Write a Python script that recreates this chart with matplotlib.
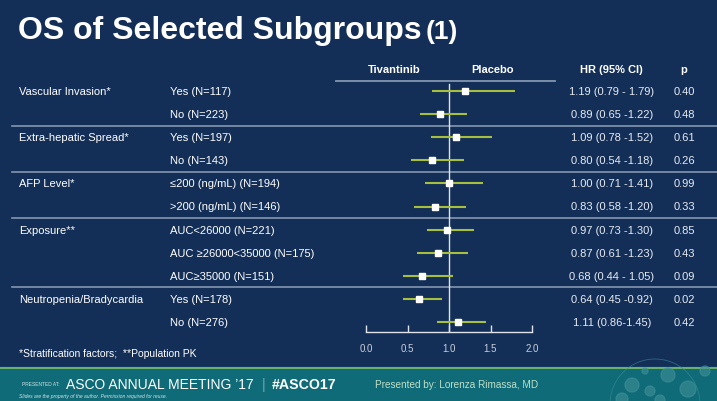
import matplotlib
matplotlib.use("Agg")
import matplotlib.pyplot as plt
from matplotlib.patches import Rectangle, Circle

groups = ["Vascular Invasion*", "", "Extra-hepatic Spread*", "", "AFP Level*", "",
          "Exposure**", "", "", "Neutropenia/Bradycardia", ""]
subgroups = ["Yes (N=117)", "No (N=223)", "Yes (N=197)", "No (N=143)",
             "≤200 (ng/mL) (N=194)", ">200 (ng/mL) (N=146)",
             "AUC<26000 (N=221)", "AUC ≥26000<35000 (N=175)", "AUC≥35000 (N=151)",
             "Yes (N=178)", "No (N=276)"]
hr = [1.19, 0.89, 1.09, 0.80, 1.00, 0.83, 0.97, 0.87, 0.68, 0.64, 1.11]
lo = [0.79, 0.65, 0.78, 0.54, 0.71, 0.58, 0.73, 0.61, 0.44, 0.45, 0.86]
hi = [1.79, 1.22, 1.52, 1.18, 1.41, 1.20, 1.30, 1.23, 1.05, 0.92, 1.45]
hr_text = ["1.19 (0.79 - 1.79)", "0.89 (0.65 -1.22)", "1.09 (0.78 -1.52)", "0.80 (0.54 -1.18)",
           "1.00 (0.71 -1.41)", "0.83 (0.58 -1.20)", "0.97 (0.73 -1.30)", "0.87 (0.61 -1.23)",
           "0.68 (0.44 - 1.05)", "0.64 (0.45 -0.92)", "1.11 (0.86-1.45)"]
p_text = ["0.40", "0.48", "0.61", "0.26", "0.99", "0.33", "0.85", "0.43", "0.09", "0.02", "0.42"]
separators_after = [1, 3, 5, 8]
xticks = [0.0, 0.5, 1.0, 1.5, 2.0]

BG = "#132f58"
TEAL = "#0f6b77"
LINE_GREEN = "#a7bf3c"
SEP = "#8597b0"

plt.rcParams['font.family'] = ["Liberation Sans", "DejaVu Sans"]

W, H = 717, 402
fig = plt.figure(figsize=(W / 100, H / 100), dpi=100, facecolor=BG)

ov = fig.add_axes([0, 0, 1, 1])
ov.set_xlim(0, W)
ov.set_ylim(H, 0)
ov.axis("off")
ov.patch.set_alpha(0)

# title
ov.text(18, 31, "OS of Selected Subgroups", fontsize=23, fontweight="bold", color="white",
        va="center", ha="left")
ov.text(426, 32, "(1)", fontsize=19, fontweight="bold", color="white",
        va="center", ha="left")

y0, dy = 92, 23.1
def rowy(i):
    return y0 + i * dy

hdr = dict(fontsize=8, fontweight="bold", color="white", va="center")
ov.text(394, 70, "Tivantinib", ha="center", **hdr)
ov.text(492, 70, "Placebo", ha="center", **hdr)
ov.text(611, 70, "HR (95% CI)", ha="center", **hdr)
ov.text(684, 70, "p", ha="center", **hdr)
ov.plot([336, 555], [82, 82], color=SEP, lw=1.3)

for i in range(len(subgroups)):
    y = rowy(i)
    if groups[i]:
        ov.text(19, y, groups[i], fontsize=8, color="white", va="center", ha="left")
    ov.text(170, y, subgroups[i], fontsize=8, color="white", va="center", ha="left")
    ov.text(612, y, hr_text[i], fontsize=8, color="#e6ebf2", va="center", ha="center")
    ov.text(684, y, p_text[i], fontsize=8, color="#e6ebf2", va="center", ha="center")

for s in separators_after:
    y = rowy(s + 0.5)
    ov.plot([12, W], [y, y], color=SEP, lw=1.2)

ov.text(19, 354, "*Stratification factors;  **Population PK", fontsize=7.5, color="white",
        va="center", ha="left")

# footer band
ov.add_patch(Rectangle((0, 368), W, H - 368, color=TEAL, zorder=1))
ov.plot([0, W], [368.5, 368.5], color="#7fbf6a", lw=1.2, zorder=2)
for (cx, cy, r) in [(632, 386, 7), (650, 392, 5), (668, 376, 7), (688, 390, 8), (705, 372, 5),
                    (622, 400, 6), (660, 401, 5), (645, 372, 3)]:
    ov.add_patch(Circle((cx, cy), r, color="#3f8f98", alpha=0.6, zorder=2))
ov.add_patch(Circle((655, 405), 45, fill=False, ec="#3f8f98", lw=0.6, alpha=0.6, zorder=2))
ov.text(22, 385, "PRESENTED AT:", fontsize=3.5, color="#cfe3e5", va="center", ha="left", zorder=3)
ov.text(66, 385, "ASCO ANNUAL MEETING \u201917", fontsize=10, color="white", va="center",
        ha="left", zorder=3)
ov.text(262, 385, "|", fontsize=10, color="#6fa9b0", va="center", ha="left", zorder=3)
ov.text(272, 385, "#ASCO17", fontsize=10.2, fontweight="bold", color="white", va="center",
        ha="left", zorder=3)
ov.text(375, 385, "Presented by: Lorenza Rimassa, MD", fontsize=7.2, color="#bfe0c8",
        va="center", ha="left", zorder=3)
ov.text(19, 397, "Slides are the property of the author. Permission required for reuse.",
        fontsize=3.6, style="italic", color="#cfe3e5", va="center", ha="left", zorder=3)

# forest axes
px_left, px_right = 366, 532
px_top, px_bot = 82, 333
ax = fig.add_axes([px_left / W, 1 - px_bot / H, (px_right - px_left) / W, (px_bot - px_top) / H])
ax.patch.set_alpha(0)
ax.set_xlim(0, 2)
ytop = (px_top - y0) / dy
ybot = (px_bot - y0) / dy
ax.set_ylim(ybot, ytop)
rows = list(range(len(hr)))
ax.hlines(rows, lo, hi, color=LINE_GREEN, lw=1.5, zorder=2)
ax.plot(hr, rows, "s", color="white", markersize=4.2, zorder=3, lw=0)
ax.plot([1, 1], [ybot, (85 - y0) / dy], color="#e0e4ea", lw=1.0, zorder=1)
for sp in ["top", "right", "left"]:
    ax.spines[sp].set_visible(False)
ax.spines["bottom"].set_color("#dfe3ea")
ax.spines["bottom"].set_linewidth(1.0)
ax.set_yticks([])
ax.set_xticks(xticks)
ax.set_xticklabels([f"{t:.1f}" for t in xticks])
ax.tick_params(axis="x", direction="in", length=5, width=1, color="#dfe3ea",
               labelcolor="#c9d0da", labelsize=7, pad=8)

fig.savefig("out.png", dpi=100, facecolor=BG)
